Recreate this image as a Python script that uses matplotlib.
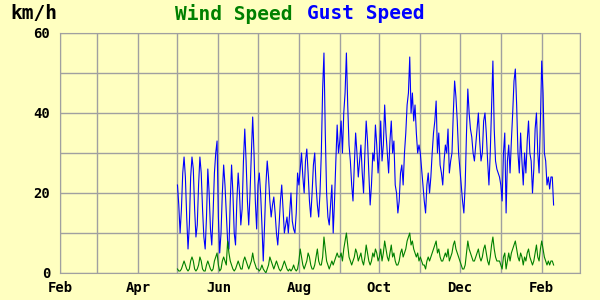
import pandas as pd
import matplotlib
matplotlib.use('Agg')
import matplotlib.pyplot as plt
import matplotlib.dates as mdates

# daily gust speed (km/h), 1 May -> 10 Feb
gust_may = [22, 17, 10, 16, 25, 29, 24, 14, 6, 12, 24, 29, 26, 16, 9, 12, 22, 29, 25, 16,
            9, 6, 14, 26, 20, 11, 7, 15, 25, 30, 33]
gust_jun = [14, 5, 10, 20, 27, 22, 15, 8, 6, 18, 27, 20, 10, 7, 18, 25, 20, 12, 16, 28,
            36, 28, 18, 12, 20, 30, 39, 30, 18, 11]
gust_jul = [22, 25, 20, 12, 3, 12, 22, 28, 24, 18, 14, 17, 19, 15, 10, 7, 12, 18, 22, 16,
            10, 12, 14, 10, 15, 20, 13, 11, 10, 15, 25]
gust_aug = [22, 26, 30, 24, 20, 28, 31, 25, 18, 14, 20, 27, 30, 22, 17, 14, 20, 30, 46, 55,
            35, 20, 14, 12, 17, 22, 10, 18, 28, 37, 30]
gust_sep = [33, 38, 30, 40, 45, 55, 42, 32, 28, 22, 18, 27, 35, 30, 24, 28, 32, 25, 20, 30,
            38, 33, 25, 17, 22, 30, 28, 37, 32, 25]
gust_oct = [30, 38, 28, 32, 42, 35, 30, 25, 33, 38, 30, 33, 22, 20, 15, 18, 25, 27, 22, 30,
            35, 42, 45, 54, 40, 45, 38, 42, 35, 30, 32]
gust_nov = [30, 26, 22, 18, 15, 22, 25, 20, 24, 30, 35, 38, 43, 30, 35, 27, 25, 22, 28, 32,
            30, 36, 25, 28, 30, 40, 48, 44, 38, 30]
gust_dec = [26, 22, 18, 15, 22, 35, 46, 40, 36, 34, 30, 28, 32, 36, 40, 33, 28, 30, 38, 40,
            35, 28, 22, 30, 42, 53, 36, 28, 26, 25, 24]
gust_jan = [22, 18, 30, 35, 15, 28, 32, 25, 33, 40, 48, 51, 42, 30, 25, 35, 28, 22, 30, 25,
            33, 38, 30, 28, 20, 26, 36, 40, 30, 25, 38]
gust_feb = [53, 45, 30, 28, 22, 24, 21, 24, 24, 17]

# daily mean wind speed (km/h)
wind_may = [1, 0.5, 0.5, 1, 2, 3, 2, 1, 0.5, 1, 3, 4, 3, 1, 0.5, 1, 2, 4, 3, 1,
            0.5, 0.5, 2, 3, 2, 1, 0.5, 1, 3, 4, 5]
wind_jun = [2, 0.5, 1, 3, 4, 3, 2, 8, 5, 3, 2, 1, 0.5, 1, 2, 3, 2, 1, 1, 3,
            4, 3, 2, 1, 2, 3, 5, 3, 2, 1]
wind_jul = [1, 0.5, 1, 2, 1, 0.5, 0, 1, 2, 4, 3, 2, 1, 2, 3, 2, 1, 0.5, 1, 2,
            3, 2, 1, 0.5, 1, 0.5, 1, 2, 1, 0.5, 1]
wind_aug = [3, 6, 4, 2, 1, 2, 3, 5, 4, 2, 1, 1, 2, 4, 6, 3, 2, 2, 4, 9,
            6, 3, 2, 1, 2, 3, 2, 3, 4, 5, 4]
wind_sep = [4, 5, 3, 6, 8, 10, 7, 4, 3, 2, 3, 4, 6, 5, 3, 4, 5, 3, 2, 4,
            7, 5, 3, 2, 3, 5, 4, 6, 5, 3]
wind_oct = [4, 6, 3, 5, 8, 6, 4, 3, 5, 7, 4, 5, 3, 2, 2, 3, 5, 6, 4, 5,
            6, 8, 9, 10, 7, 8, 6, 5, 4, 5, 3]
wind_nov = [4, 3, 2, 2, 1, 3, 4, 3, 4, 5, 6, 7, 8, 5, 6, 4, 3, 3, 4, 5,
            4, 6, 3, 4, 5, 7, 8, 6, 5, 4]
wind_dec = [3, 2, 1, 1, 2, 5, 8, 6, 5, 4, 3, 3, 4, 5, 6, 4, 3, 4, 6, 7,
            5, 3, 2, 4, 7, 9, 6, 4, 3, 3, 3]
wind_jan = [2, 1, 4, 5, 1, 3, 5, 3, 5, 6, 7, 8, 6, 4, 3, 5, 4, 2, 4, 3,
            5, 6, 4, 3, 2, 3, 5, 7, 4, 3, 6]
wind_feb = [8, 6, 4, 3, 2, 3, 2, 3, 3, 2]

gust = (gust_may + gust_jun + gust_jul + gust_aug + gust_sep + gust_oct +
        gust_nov + gust_dec + gust_jan + gust_feb)
wind = (wind_may + wind_jun + wind_jul + wind_aug + wind_sep + wind_oct +
        wind_nov + wind_dec + wind_jan + wind_feb)
dates = pd.date_range('2015-05-01', periods=len(gust), freq='D')

bg = '#FFFFC0'
fig = plt.figure(figsize=(6, 3), dpi=100, facecolor=bg)
ax = fig.add_axes([60 / 600, 27 / 300, 520 / 600, 240 / 300], facecolor=bg)

ax.plot(dates, gust, color='#0000FF', lw=0.8)
ax.plot(dates, wind, color='#008000', lw=0.8)

ax.set_xlim(pd.Timestamp('2015-02-01'), pd.Timestamp('2016-03-01'))
ax.set_ylim(0, 60)
ax.xaxis.set_major_locator(mdates.MonthLocator(bymonth=(2, 4, 6, 8, 10, 12)))
ax.xaxis.set_minor_locator(mdates.MonthLocator())
ax.xaxis.set_major_formatter(mdates.DateFormatter('%b'))
ax.set_yticks([0, 20, 40, 60])
ax.set_yticks([10, 30, 50], minor=True)
ax.grid(True, which='both', color='#A0A0A0', lw=1)
ax.set_axisbelow(True)
ax.tick_params(which='both', length=0)
ax.tick_params(axis='x', pad=6)
ax.tick_params(axis='y', pad=7)
for lab in ax.get_xticklabels() + ax.get_yticklabels():
    lab.set_fontfamily('DejaVu Sans Mono')
    lab.set_fontweight('bold')
    lab.set_fontsize(10)
for s in ax.spines.values():
    s.set_color('#A0A0A0')

fig.text(10 / 600, 0.955, 'km/h', fontsize=14, fontweight='bold',
         family='DejaVu Sans Mono', va='center', ha='left', color='black')
fig.text(175 / 600, 0.955, 'Wind Speed', fontsize=14, fontweight='bold',
         family='DejaVu Sans Mono', va='center', ha='left', color='#008000')
fig.text(307 / 600, 0.955, 'Gust Speed', fontsize=14, fontweight='bold',
         family='DejaVu Sans Mono', va='center', ha='left', color='#0000FF')

fig.savefig('out.png', dpi=100, facecolor=bg)
